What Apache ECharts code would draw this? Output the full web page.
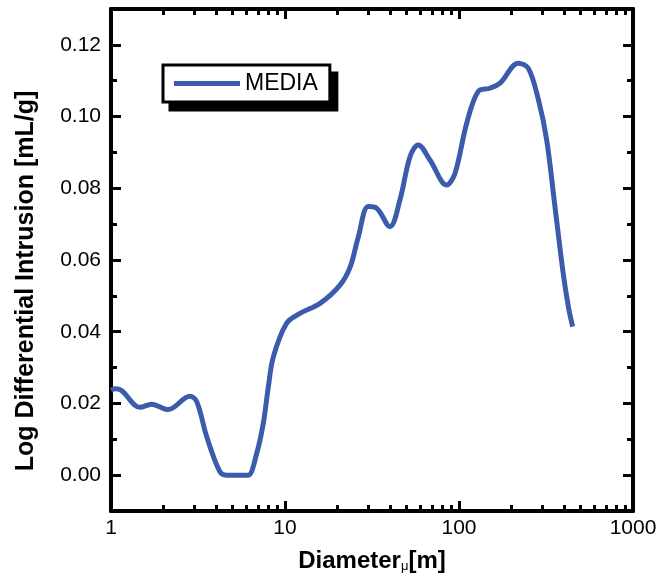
<!DOCTYPE html>
<html>
<head>
<meta charset="utf-8">
<script src="https://cdn.jsdelivr.net/npm/echarts@6/dist/echarts.min.js"></script>
<style>
  html, body { margin: 0; padding: 0; background: #fff; }
  #chart { width: 669px; height: 586px; }
</style>
</head>
<body>
<div id="chart"></div>
<script>
// ---- data ----
const seriesName = 'MEDIA';
const diameter = [1.0, 1.06, 1.15, 1.47, 1.71, 2.13, 2.84, 3.11, 3.55, 4.23, 4.63, 5.76, 6.15, 6.88, 7.5, 8.02, 8.57, 10.2, 12.2, 15.9, 20.7, 23.7, 26.4, 30.1, 33.7, 40.1, 45.8, 52.3, 58.3, 68.1, 84.9, 94.9, 110.8, 129, 150.6, 172, 219, 250, 286, 319, 356, 397, 425, 450];
const intrusion = [0.0237, 0.0241, 0.0236, 0.0189, 0.0198, 0.0183, 0.0220, 0.0205, 0.0107, 0.0009, 0.0, 0.0, 0.0, 0.0061, 0.0144, 0.0246, 0.033, 0.0423, 0.0451, 0.0479, 0.053, 0.0581, 0.0665, 0.0749, 0.0744, 0.0693, 0.0768, 0.0888, 0.0921, 0.0879, 0.0809, 0.0842, 0.0982, 0.107, 0.1079, 0.1093, 0.1149, 0.1135, 0.1047, 0.0935, 0.0749, 0.0563, 0.047, 0.0414];
const xTickLabels = [1, 10, 100, 1000];
const xMinorTicks = [2, 3, 4, 5, 6, 7, 8, 9, 20, 30, 40, 50, 60, 70, 80, 90, 200, 300, 400, 500, 600, 700, 800, 900];
const yTickLabels = [0.00, 0.02, 0.04, 0.06, 0.08, 0.10, 0.12];
const yMinorTicks = [0.01, 0.03, 0.05, 0.07, 0.09, 0.11];
const xTitle = 'Diameter';
const yTitle = 'Log Differential Intrusion [mL/g]';

const FONT = '"Liberation Sans", Arial, sans-serif';
const LINE_COLOR = '#3b5bab';
const frame = { color: '#000', width: 4 };

const chart = echarts.init(document.getElementById('chart'), null, { renderer: 'canvas' });

function majorX(pos, withLabels) {
  return {
    type: 'log', logBase: 10, min: 1, max: 1000, position: pos,
    axisLine: { show: true, onZero: false, lineStyle: frame },
    axisTick: { show: true, inside: true, length: 10, lineStyle: { color: '#000', width: 3 } },
    axisLabel: withLabels ? {
      show: true, color: '#000', fontSize: 21, fontFamily: FONT, margin: 7,
      formatter: v => String(v)
    } : { show: false },
    splitLine: { show: false }, minorTick: { show: false }
  };
}
function minorX(pos) {
  return {
    type: 'value', min: 0, max: 3, position: pos,
    axisLine: { show: false, onZero: false },
    axisTick: { show: true, inside: true, length: 6, lineStyle: { color: '#000', width: 3 },
      customValues: xMinorTicks.map(v => Math.log10(v)) },
    axisLabel: { show: false }, splitLine: { show: false }
  };
}
function majorY(pos, withLabels) {
  return {
    type: 'value', min: -0.01, max: 0.13, position: pos,
    axisLine: { show: true, onZero: false, lineStyle: frame },
    axisTick: { show: true, inside: true, length: 10, lineStyle: { color: '#000', width: 3 },
      customValues: yTickLabels },
    axisLabel: withLabels ? {
      show: true, color: '#000', fontSize: 21, fontFamily: FONT, margin: 10,
      customValues: yTickLabels, formatter: v => Number(v).toFixed(2)
    } : { show: false },
    splitLine: { show: false }
  };
}
function minorY(pos) {
  return {
    type: 'value', min: -0.01, max: 0.13, position: pos,
    axisLine: { show: false, onZero: false },
    axisTick: { show: true, inside: true, length: 6, lineStyle: { color: '#000', width: 3 },
      customValues: yMinorTicks },
    axisLabel: { show: false }, splitLine: { show: false }
  };
}

const xBottom = majorX('bottom', true);
xBottom.name = xTitle + '{mu|μ}[m]';
xBottom.nameLocation = 'middle';
xBottom.nameGap = 38;
xBottom.nameTextStyle = {
  fontFamily: FONT, fontWeight: 'bold', fontSize: 24, color: '#000',
  rich: { mu: { fontFamily: FONT, fontSize: 13, fontWeight: 'normal', color: '#000', verticalAlign: 'bottom' } }
};

const yLeft = majorY('left', true);
yLeft.name = yTitle;
yLeft.nameLocation = 'middle';
yLeft.nameGap = 72;
yLeft.nameTextStyle = {
  fontFamily: FONT, fontWeight: 'bold', fontSize: 25, color: '#000',
  padding: [0, 42, 0, 0]
};

const legendCommon = {
  show: true, orient: 'horizontal', data: [seriesName],
  padding: [7, 12, 7, 11], borderWidth: 3,
  icon: 'rect', itemWidth: 66, itemHeight: 5, itemGap: 5,
  selectedMode: false
};

chart.setOption({
  animation: false,
  backgroundColor: '#fff',
  grid: { left: 111, right: 36, top: 9, bottom: 75, containLabel: false },
  legend: [
    // drop shadow box
    Object.assign({}, legendCommon, {
      left: 170, top: 73, z: 3,
      backgroundColor: '#000', borderColor: '#000',
      itemStyle: { color: '#000' }, lineStyle: { color: '#000' },
      textStyle: { fontFamily: FONT, fontSize: 23, color: '#000' }
    }),
    // main legend box
    Object.assign({}, legendCommon, {
      left: 163, top: 65, z: 5,
      backgroundColor: '#fff', borderColor: '#000',
      textStyle: { fontFamily: FONT, fontSize: 23, color: '#000' }
    })
  ],
  xAxis: [xBottom, minorX('bottom'), majorX('top', false), minorX('top')],
  yAxis: [yLeft, minorY('left'), majorY('right', false), minorY('right')],
  series: [{
    name: seriesName,
    type: 'line',
    xAxisIndex: 0, yAxisIndex: 0,
    data: diameter.map((d, i) => [d, intrusion[i]]),
    smooth: 0.35,
    showSymbol: false,
    symbol: 'none',
    lineStyle: { color: LINE_COLOR, width: 5 },
    itemStyle: { color: LINE_COLOR }
  }]
});
</script>
</body>
</html>
